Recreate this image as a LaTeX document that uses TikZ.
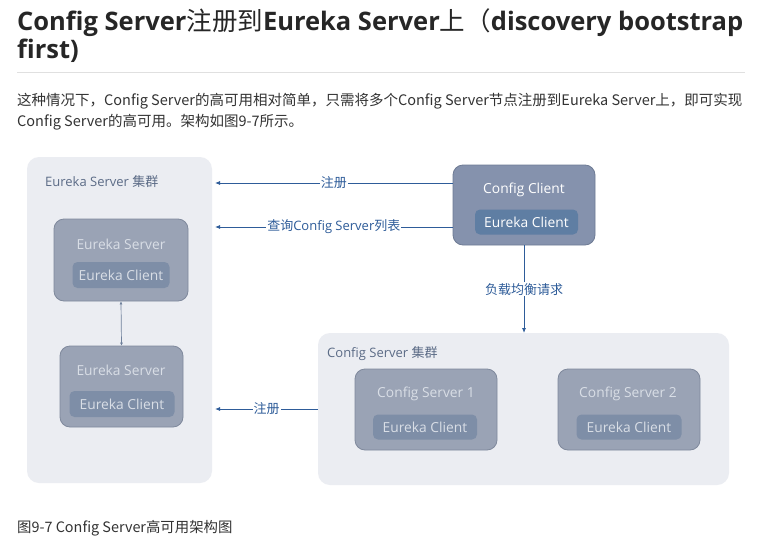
\documentclass[tikz,border=0pt]{standalone}
\usepackage{fontspec}
\setmainfont{Open Sans}
\newfontfamily\cjk{Noto Sans CJK SC}
\usetikzlibrary{arrows.meta}
\definecolor{arrowc}{HTML}{2E5C99}
\definecolor{clusterbg}{HTML}{EBEDF2}
\definecolor{srvfill}{HTML}{9AA3B5}
\definecolor{srvdraw}{HTML}{7F899C}
\definecolor{srvin}{HTML}{7E8EA7}
\definecolor{ccfill}{HTML}{8592AD}
\definecolor{ccdraw}{HTML}{6E7B94}
\definecolor{ccin}{HTML}{5F7EA3}
\definecolor{srvtext}{HTML}{D9DEE6}
\definecolor{labeltext}{HTML}{5B6B86}
\definecolor{bodytext}{HTML}{333333}
\newcommand{\zh}[1]{{\cjk #1}}
\newcommand{\zhr}[1]{{\cjk\mdseries #1}}
\begin{document}
\begin{tikzpicture}[x=1pt,y=-1pt,
  cluster/.style={draw=none,fill=clusterbg,rounded corners=12pt},
  srvbox/.style={draw=srvdraw,fill=srvfill,rounded corners=10pt,line width=0.8pt},
  ccbox/.style={draw=ccdraw,fill=ccfill,rounded corners=10pt,line width=0.8pt},
  inbox/.style={draw=none,fill=srvin,rounded corners=5pt},
  ccinbox/.style={draw=none,fill=ccin,rounded corners=5pt},
  boxfont/.style={font=\fontsize{13.8}{16}\selectfont},
  srvlabel/.style={text=srvtext,boxfont,inner sep=0pt},
  cclabel/.style={text=white,boxfont,inner sep=0pt},
  grplabel/.style={text=labeltext,font=\fontsize{13}{15}\selectfont,anchor=west,inner sep=0pt},
  conn/.style={draw=arrowc,line width=0.8pt,-{Latex[length=5pt,width=4pt]}},
  connlabel/.style={fill=white,text=arrowc,font=\fontsize{13}{15}\selectfont,inner sep=1pt},
  body/.style={text=bodytext,anchor=base west,inner sep=0pt}
]
\useasboundingbox (0,0) rectangle (779,546);
\fill[white] (0,0) rectangle (779,546);

% title
\node[body,text=black!85,font=\fontsize{25.5}{30}\selectfont\bfseries] (t1) at (17,30)
  {Config Server\zhr{注册到}Eureka Server\zhr{上（}discovery bootstrap};
\node[body,text=black!85,font=\fontsize{25.5}{30}\selectfont\bfseries] (t2) at (17,58) {first)};
\draw[black!12,line width=0.8pt] (17,72) -- (745,72);

% paragraph
\node[body,font=\cjk\fontsize{14.5}{18}\selectfont] (p1) at (17,105)
  {这种情况下，Config Server的高可用相对简单，只需将多个Config Server节点注册到Eureka Server上，即可实现};
\node[body,font=\cjk\fontsize{14.5}{18}\selectfont] (p2) at (17,126)
  {Config Server的高可用。架构如图9-7所示。};

% clusters
\path[cluster] (27,157) rectangle (212,483);
\node[grplabel] (g1) at (45,182) {Eureka Server \zh{集群}};
\path[cluster] (318,333) rectangle (729,485);
\node[grplabel] (g2) at (327,354) {Config Server \zh{集群}};

% eureka servers
\node[srvbox,minimum width=134pt,minimum height=82pt] (es1) at (121,260) {};
\node[srvlabel] (es1t) at (121,244) {Eureka Server};
\node[inbox,minimum width=97pt,minimum height=26pt,text=srvtext,boxfont] (es1c) at (121,275) {Eureka Client};

\node[srvbox,minimum width=123pt,minimum height=81pt] (es2) at (121.5,386.5) {};
\node[srvlabel] (es2t) at (121,370) {Eureka Server};
\node[inbox,minimum width=105pt,minimum height=26pt,text=srvtext,boxfont] (es2c) at (122,404) {Eureka Client};

\draw[draw=srvdraw!80!arrowc,line width=0.7pt,{Latex[length=3pt,width=3pt]}-{Latex[length=3pt,width=3pt]}] (es1.south) -- (es2.north);

% config client
\node[ccbox,minimum width=142pt,minimum height=80pt] (cc) at (524,205) {};
\node[cclabel] (cct) at (524,190) {Config Client};
\node[ccinbox,minimum width=103pt,minimum height=25pt,text=white,boxfont] (ccc) at (526.5,222) {Eureka Client};

% config servers
\node[srvbox,minimum width=142pt,minimum height=81pt] (cs1) at (426,409.5) {};
\node[srvlabel] (cs1t) at (426,394) {Config Server 1};
\node[inbox,minimum width=104pt,minimum height=25pt,text=srvtext,boxfont] (cs1c) at (425,427) {Eureka Client};

\node[srvbox,minimum width=142pt,minimum height=81pt] (cs2) at (629,409.5) {};
\node[srvlabel] (cs2t) at (628,394) {Config Server 2};
\node[inbox,minimum width=105pt,minimum height=25pt,text=srvtext,boxfont] (cs2c) at (629,427) {Eureka Client};

% connectors
\coordinate (a1) at (215,183);
\coordinate (a2) at (215,227);
\coordinate (a3) at (215,409);
\draw[conn] (cc.west |- a1) -- node[connlabel] {\zh{注册}} (a1);
\draw[conn] (cc.west |- a2) -- node[connlabel] {\zh{查询}Config Server\zh{列表}} (a2);
\draw[conn] (318,409) -- node[connlabel,pos=0.5] {\zh{注册}} (a3);
\draw[conn] (cc.south) -- node[connlabel] {\zh{负载均衡请求}} (cc.south |- 0,333);

% caption
\node[body,font=\cjk\fontsize{14.4}{17}\selectfont] (cap) at (17,532) {图9-7 Config Server高可用架构图};
\end{tikzpicture}
\end{document}
